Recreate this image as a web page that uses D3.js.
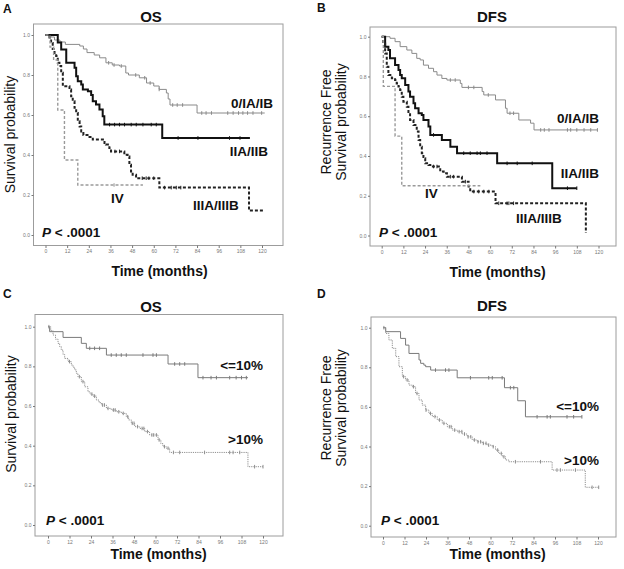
<!DOCTYPE html>
<html><head><meta charset="utf-8">
<script src="https://cdn.jsdelivr.net/npm/d3@7"></script>
<style>html,body{margin:0;padding:0;background:#fff;}svg{display:block;font-family:"Liberation Sans",Arial,sans-serif;}</style>
</head><body>
<svg id="chart" width="624" height="569"></svg>
<script>
// ---------- data (time in months, survival probability) ----------
const xTicks = [0,12,24,36,48,60,72,84,96,108,120];
const yTicks = [0,0.2,0.4,0.6,0.8,1.0];

// Panel A : OS by stage
const aEarly = [[0,1],[3,0.99],[5,0.975],[8,0.965],[11,0.953],[19,0.945],[21,0.93],[23,0.912],[27,0.90],[30,0.886],[33.5,0.861],[37,0.85],[41,0.845],[44.5,0.81],[46,0.80],[52,0.786],[56,0.76],[60,0.745],[63,0.728],[67,0.71],[68,0.68],[69,0.65],[84,0.61],[121.5,0.61]];
const aEarlyCens = [35,38,42,50,55,58,63,70.5,73,76,86.6,89,92,101,104,107,109.4,112,115,119.8];
const aII = [[0,1],[6.8,0.962],[8.7,0.928],[11.5,0.861],[16.1,0.836],[17,0.794],[17.9,0.769],[19.8,0.753],[20.7,0.727],[23.5,0.719],[25.3,0.70],[26.2,0.669],[28,0.652],[29.9,0.627],[31.7,0.594],[32.6,0.552],[64.7,0.485],[113.3,0.485]];
const aIICens = [35.5,38.3,41,43.8,47.5,50.3,54,58.6,61.4,73.5,84.5,102,107.8];
const aIII = [[0,1],[2.2,0.987],[3.1,0.96],[4,0.93],[5,0.91],[5.9,0.895],[6.8,0.861],[7.7,0.845],[8.7,0.811],[9.6,0.744],[13.3,0.727],[14.2,0.694],[15.1,0.669],[16.1,0.636],[17,0.61],[17.9,0.569],[18.9,0.543],[19.8,0.518],[21,0.50],[24.4,0.49],[26.2,0.477],[32.7,0.46],[33.5,0.452],[35.4,0.435],[36.3,0.418],[43.7,0.401],[45.5,0.393],[46.5,0.351],[47.4,0.318],[48.3,0.301],[50.2,0.284],[63.1,0.237],[112.8,0.122],[120.5,0.122]];
const aIIICens = [38.5,41,53.6,55.8,57.3,60,66,69.7,72.5,75];
const aIV = [[0,1],[2.5,0.94],[4.5,0.875],[6.8,0.625],[10.5,0.375],[17.9,0.25],[54,0.25]];
const aIVCens = [38];

// Panel B : DFS by stage
const bEarly = [[0,1],[4.6,0.992],[7.4,0.975],[10.2,0.95],[13.9,0.933],[16.7,0.916],[19.4,0.891],[21.3,0.883],[23.1,0.857],[25.9,0.841],[28.7,0.824],[30.6,0.807],[33.3,0.79],[36.1,0.782],[43.5,0.765],[44.4,0.745],[55.6,0.724],[56.5,0.707],[63,0.682],[68.5,0.64],[69.4,0.615],[75.9,0.581],[82.4,0.565],[84.3,0.531],[119.4,0.531]];
const bEarlyCens = [38,40.7,48,51,59,71,73,88,90,92.6,102.8,104.6,108,112,115.7,119.4];
const bII = [[0,1],[1.9,0.95],[3.7,0.933],[4.6,0.891],[7.4,0.858],[9.3,0.832],[10.2,0.807],[11.1,0.791],[13,0.757],[14.8,0.724],[15.7,0.698],[17.6,0.665],[18.5,0.64],[20.4,0.615],[22.2,0.606],[23.1,0.581],[25.9,0.548],[26.9,0.506],[33.3,0.481],[38,0.447],[41.7,0.414],[63.9,0.363],[94.4,0.238],[108,0.238]];
const bIICens = [28.7,45.4,49,52.8,54.6,58.3,69.4,75,83.3,102.8,108];
const bIII = [[0,1],[0.9,0.966],[1.9,0.916],[2.8,0.849],[3.7,0.807],[5.6,0.791],[7.4,0.782],[8.3,0.765],[9.3,0.749],[10.2,0.732],[11.1,0.698],[12,0.673],[13.9,0.648],[14.8,0.615],[15.7,0.581],[17.6,0.556],[19.4,0.523],[20.4,0.481],[21.3,0.447],[22.2,0.414],[23.1,0.389],[24.1,0.363],[25.9,0.355],[26.9,0.347],[32.4,0.322],[34.3,0.313],[36.1,0.296],[44.4,0.271],[48.1,0.246],[49,0.221],[63,0.162],[113,0.012]];
const bIIICens = [28.7,30.6,38,39.8,46.3,51,53.7,56.5,59.3,64.8,69.4,70.4,73];
const bIV = [[0,1],[0.9,0.75],[7.4,0.5],[11.1,0.25],[54.6,0.25]];
const bIVCens = [];

// Panel C : OS by percentage
const cLow = [[0,1],[0.9,0.975],[8.4,0.946],[18.6,0.916],[21.4,0.891],[32.6,0.857],[67,0.812],[83.7,0.743],[111.6,0.743]];
const cLowCens = [23.3,26,28.8,35.3,38.1,40.9,43.7,53,58.6,60.5,70.7,73.5,76.3,86.5,91,94,101.4,105,108,110.7];
const cHigh = [[0,1],[1.5,0.98],[2.8,0.958],[4.2,0.937],[5.6,0.916],[6.5,0.9],[7.4,0.882],[8.4,0.86],[9.3,0.84],[11.2,0.824],[13,0.807],[14,0.795],[14.9,0.782],[15.8,0.765],[16.7,0.748],[18.6,0.723],[20.5,0.697],[22.3,0.672],[23.5,0.66],[25.1,0.65],[27,0.63],[28.5,0.617],[29.8,0.605],[32.6,0.588],[35.3,0.58],[38.1,0.571],[40.9,0.563],[43.7,0.546],[45,0.53],[46.5,0.513],[48.4,0.496],[51.2,0.487],[54,0.471],[56.7,0.454],[61.4,0.429],[63,0.41],[64.2,0.395],[66,0.387],[67.9,0.366],[111.6,0.294],[120,0.294]];
const cHighCens = [0.5,12,17.5,19.5,24.5,26,30.5,31.5,33.5,36.5,37.5,39.5,42,44.5,47,48,50,52.5,53.5,55.5,58,59,60.5,62,65,67,70,73.5,87.4,101.4,103.3,107,115.3,120];

// Panel D : DFS by percentage
const dLow = [[0,1],[1.5,0.98],[9.8,0.946],[12.6,0.912],[14.5,0.87],[20.1,0.837],[21,0.82],[22.8,0.811],[23.8,0.803],[26.6,0.786],[41.4,0.747],[67.8,0.697],[75.2,0.631],[79.5,0.55],[111,0.55]];
const dLowCens = [29.3,34.9,36.8,48.8,59,61,66.5,71.1,73,86,91.6,93.4,102.7,106.4,111];
const dHigh = [[0,1],[1.5,0.971],[3.3,0.938],[5.2,0.896],[7.1,0.854],[8.9,0.803],[10.8,0.753],[12.6,0.736],[14.5,0.71],[16.3,0.702],[18.2,0.668],[20.1,0.635],[21.9,0.609],[23.8,0.584],[25.6,0.567],[27.5,0.551],[30.3,0.534],[33.1,0.517],[35.9,0.5],[38.6,0.483],[41.4,0.475],[44.2,0.463],[47,0.449],[49.8,0.433],[52.6,0.424],[55.4,0.416],[58.1,0.407],[60.9,0.399],[62.8,0.382],[64.6,0.365],[66.5,0.348],[68.4,0.332],[70.2,0.323],[94.4,0.281],[112.9,0.194],[120.4,0.194]];
const dHighCens = [0.5,11.5,13.5,17,19,24,26.5,29,31.5,34,37,38,40,42.5,44,45.5,47.5,49,51,53,54.5,56,57.5,59,61.5,64,66,67.5,73.9,87.9,97.1,99,107.4,116.7,120.4];

const stageNames = ["0/IA/IB","IIA/IIB","IIIA/IIIB","IV"];
const pctNames = ["<=10%",">10%"];

// ---------- styles ----------
const sEarly = {stroke:"#8a8a8a", width:1, dash:null};
const sII    = {stroke:"#111", width:2, dash:null};
const sIII   = {stroke:"#222", width:2, dash:"3,2"};
const sIV    = {stroke:"#9a9a9a", width:1.4, dash:"3,2"};
const sLow   = {stroke:"#7a7a7a", width:1, dash:null};
const sHigh  = {stroke:"#8f8f8f", width:1, dash:"1.2,1"};

const panels = [
  {letter:"A", title:"OS", frame:[33.5,24,283,245.5], xr:[45.5,262], yr:[235,35],
   ylab:["Survival probability"], ylabX:[14.5], ylabY:134.5, titleX:151, titleY:22, letterXY:[3,13], timeXY:[159.5,275.5], pXY:[42,236.5],
   series:[{d:aEarly,c:aEarlyCens,s:sEarly},{d:aII,c:aIICens,s:sII},{d:aIII,c:aIIICens,s:sIII},{d:aIV,c:aIVCens,s:sIV}],
   labels:[{t:stageNames[0],x:273,y:108,a:"end"},{t:stageNames[1],x:268,y:156,a:"end"},{t:stageNames[3],x:111,y:203,a:"start"},{t:stageNames[2],x:193,y:210,a:"start"}]},
  {letter:"B", title:"DFS", frame:[370,27,616,246], xr:[381.7,598.5], yr:[235.5,36.7],
   ylab:["Recurrence Free","Survival probability"], ylabX:[331,345.5], ylabY:122, titleX:492, titleY:22, letterXY:[317,12], timeXY:[497.5,276.5], pXY:[379,236.5],
   series:[{d:bEarly,c:bEarlyCens,s:sEarly},{d:bII,c:bIICens,s:sII},{d:bIII,c:bIIICens,s:sIII},{d:bIV,c:bIVCens,s:sIV}],
   labels:[{t:stageNames[0],x:599,y:123,a:"end"},{t:stageNames[1],x:599,y:178,a:"end"},{t:stageNames[3],x:425,y:198,a:"start"},{t:stageNames[2],x:516,y:223,a:"start"}]},
  {letter:"C", title:"OS", frame:[35,314.5,283,536], xr:[48,263], yr:[525,326.7],
   ylab:["Survival probability"], ylabX:[15.5], ylabY:414, titleX:151, titleY:312, letterXY:[3,298], timeXY:[158.5,558.5], pXY:[46,524.5],
   series:[{d:cLow,c:cLowCens,s:sLow},{d:cHigh,c:cHighCens,s:sHigh}],
   labels:[{t:pctNames[0],x:263,y:370,a:"end"},{t:pctNames[1],x:263,y:444,a:"end"}]},
  {letter:"D", title:"DFS", frame:[371,317,616,537], xr:[383,598], yr:[525.7,327.7],
   ylab:["Recurrence Free","Survival probability"], ylabX:[331,345.5], ylabY:408, titleX:492, titleY:311, letterXY:[317,298], timeXY:[497.5,558.5], pXY:[381,524.5],
   series:[{d:dLow,c:dLowCens,s:sLow},{d:dHigh,c:dHighCens,s:sHigh}],
   labels:[{t:pctNames[0],x:599,y:411,a:"end"},{t:pctNames[1],x:599,y:465,a:"end"}]}
];

const svg = d3.select("#chart");

function stepValue(data, t){
  let v = data[0][1];
  for (const p of data){ if (p[0] <= t) v = p[1]; else break; }
  return v;
}

panels.forEach(p => {
  const g = svg.append("g");
  const x = d3.scaleLinear().domain([0,120]).range(p.xr);
  const y = d3.scaleLinear().domain([0,1]).range(p.yr);
  const [fl,ft,fr,fb] = p.frame;

  // frame
  g.append("rect").attr("x",fl).attr("y",ft).attr("width",fr-fl).attr("height",fb-ft)
    .attr("fill","none").attr("stroke","#9c9c9c").attr("stroke-width",1);

  // axes
  const xa = g.append("g").attr("transform",`translate(0,${fb})`)
    .call(d3.axisBottom(x).tickValues(xTicks).tickSize(2.5).tickPadding(1.5));
  const ya = g.append("g").attr("transform",`translate(${fl},0)`)
    .call(d3.axisLeft(y).tickValues(yTicks).tickFormat(d3.format(".1f")).tickSize(2).tickPadding(1.5));
  [xa,ya].forEach(a=>{
    a.select(".domain").remove();
    a.selectAll(".tick line").attr("stroke","#777");
    a.selectAll(".tick text").attr("fill","#777").style("font-size","5px").style("font-family","Liberation Sans, Arial");
  });

  // curves
  const line = d3.line().x(d=>x(d[0])).y(d=>y(d[1])).curve(d3.curveStepAfter);
  p.series.forEach(se => {
    g.append("path").attr("d",line(se.d)).attr("fill","none")
      .attr("stroke",se.s.stroke).attr("stroke-width",se.s.width)
      .attr("stroke-dasharray",se.s.dash);
    g.selectAll(null).data(se.c).enter().append("line")
      .attr("x1",t=>x(t)).attr("x2",t=>x(t))
      .attr("y1",t=>y(stepValue(se.d,t))-1.8).attr("y2",t=>y(stepValue(se.d,t))+1.8)
      .attr("stroke",se.s.stroke).attr("stroke-width",1);
  });

  // texts
  g.append("text").attr("x",p.letterXY[0]).attr("y",p.letterXY[1]).text(p.letter)
    .style("font-size","12px").style("font-weight","bold").attr("fill","#111");
  g.append("text").attr("x",p.titleX).attr("y",p.titleY).attr("text-anchor","middle").text(p.title)
    .style("font-size","15px").style("font-weight","bold").attr("fill","#111");
  g.append("text").attr("x",p.timeXY[0]).attr("y",p.timeXY[1]).attr("text-anchor","middle").text("Time (months)")
    .style("font-size","14px").style("font-weight","bold").attr("fill","#111");
  p.ylab.forEach((t,i)=>{
    g.append("text").attr("transform",`translate(${p.ylabX[i]},${p.ylabY}) rotate(-90)`)
      .attr("text-anchor","middle").text(t).style("font-size","14px").attr("fill","#111");
  });
  const pt = g.append("text").attr("x",p.pXY[0]).attr("y",p.pXY[1]).style("font-size","13.5px").style("font-weight","bold").attr("fill","#111");
  pt.append("tspan").text("P").style("font-style","italic");
  pt.append("tspan").text(" < .0001");
  p.labels.forEach(l=>{
    g.append("text").attr("x",l.x).attr("y",l.y).attr("text-anchor",l.a).text(l.t)
      .style("font-size","13.5px").style("font-weight","bold").attr("fill","#111");
  });
});
</script>
</body></html>
